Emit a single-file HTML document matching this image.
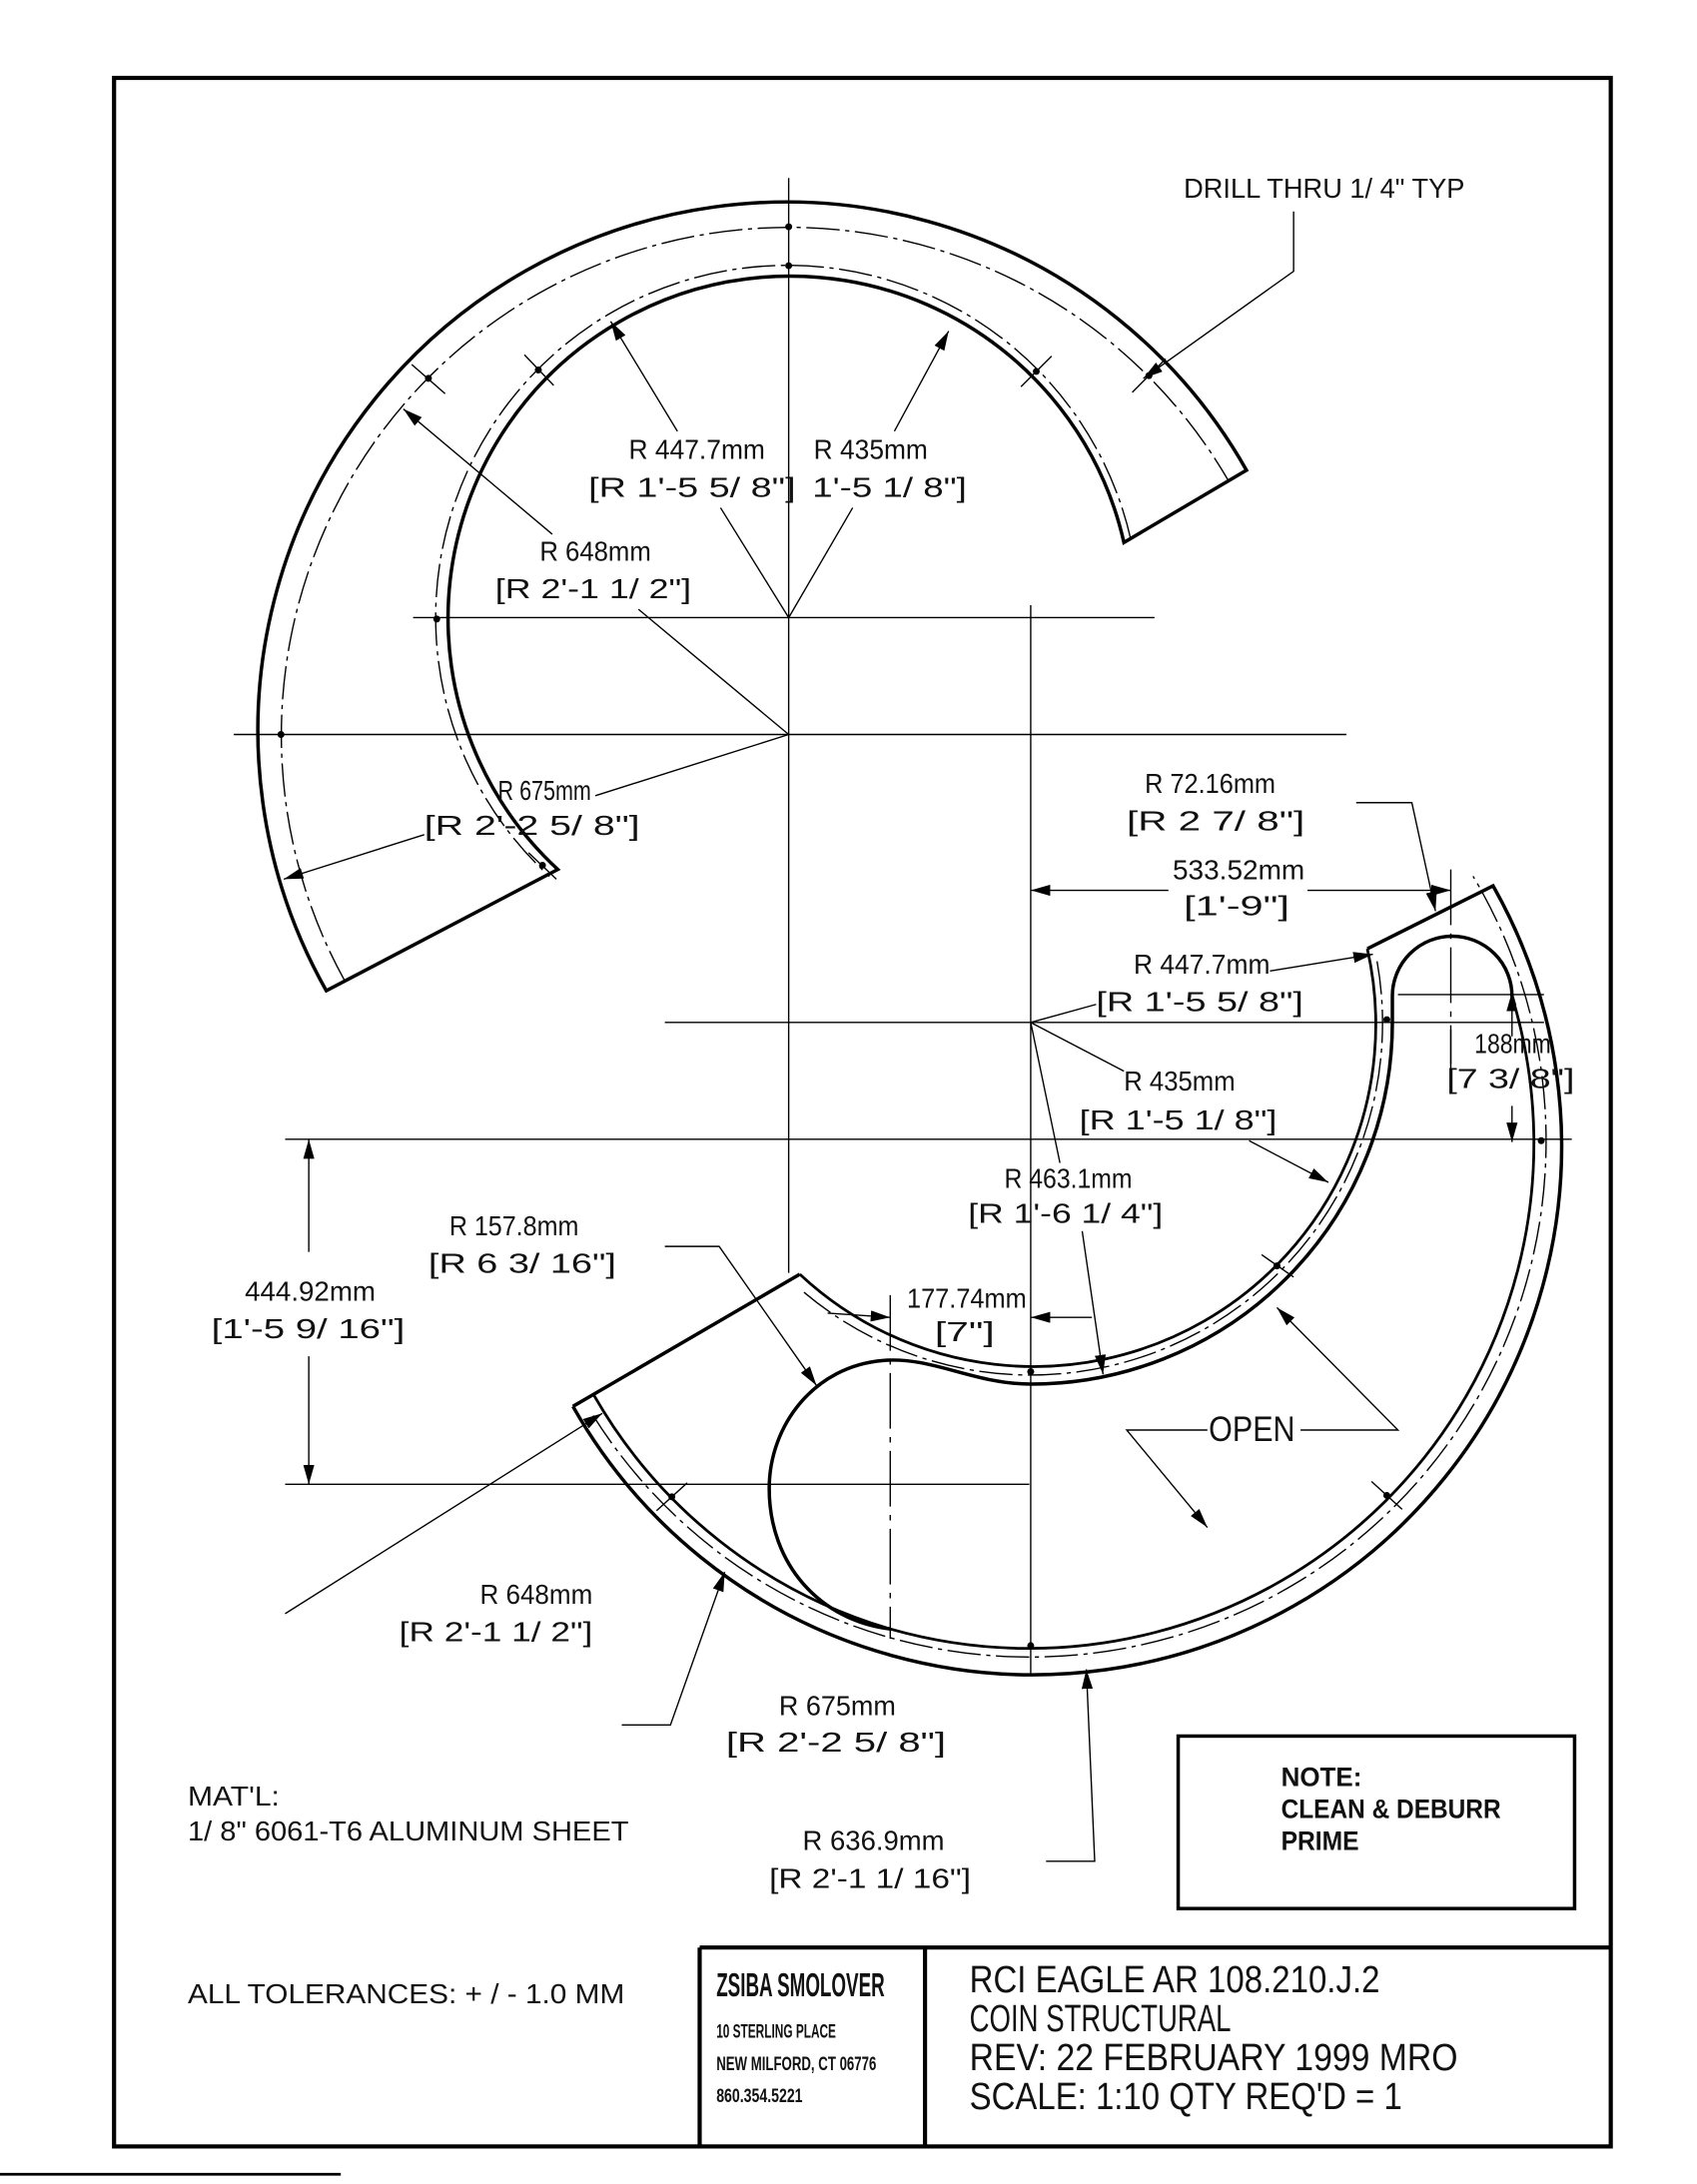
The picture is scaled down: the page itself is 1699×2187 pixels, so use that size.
<!DOCTYPE html>
<html><head><meta charset="utf-8">
<style>
html,body{margin:0;padding:0;background:#fff;}
svg{display:block;}
text{font-family:"Liberation Sans",sans-serif;fill:#111;}
</style></head>
<body>
<svg width="1699" height="2187" viewBox="0 0 1220 1570" preserveAspectRatio="none" xmlns="http://www.w3.org/2000/svg">
<defs>
<marker id="a" viewBox="0 0 14 8" refX="14" refY="4" markerWidth="14" markerHeight="8" markerUnits="userSpaceOnUse" orient="auto">
<path d="M0,0 L14,4 L0,8 Z" fill="#000"/>
</marker>
</defs>
<rect width="1220" height="1570" fill="#fff"/>
<!-- border -->
<rect x="82" y="56" width="1076" height="1487" fill="none" stroke="#000" stroke-width="3"/>
<line x1="503" y1="1400" x2="1158" y2="1400" stroke="#000" stroke-width="3"/>
<line x1="503" y1="1400" x2="503" y2="1543" stroke="#000" stroke-width="3"/>
<line x1="665" y1="1400" x2="665" y2="1543" stroke="#000" stroke-width="3"/>
<line x1="0" y1="1563" x2="245" y2="1563" stroke="#000" stroke-width="2"/>

<!-- construction lines -->
<g stroke="#000" stroke-width="1" fill="none">
<line x1="567" y1="128" x2="567" y2="915"/>
<line x1="297" y1="444" x2="830" y2="444"/>
<line x1="168" y1="528" x2="968" y2="528"/>
<line x1="741" y1="435" x2="741" y2="1205"/>
<line x1="478" y1="735" x2="1110" y2="735"/>
<line x1="205" y1="819" x2="1130" y2="819"/>
<line x1="205" y1="1067" x2="740" y2="1067"/>
<line x1="640" y1="931" x2="640" y2="1178" stroke-dasharray="40 6 4 6"/>
<line x1="1043" y1="625" x2="1043" y2="770" stroke-dasharray="40 6 4 6"/>
<line x1="1005" y1="715" x2="1110" y2="715"/>
</g>

<!-- top piece -->
<path d="M234.6,712.2 A380 380 0 0 1 896.1,338 L808,390 A246 246 0 1 0 401,625 Z" fill="none" stroke="#000" stroke-width="2.5"/>
<path d="M247.8,705 A365 365 0 0 1 883.1,345.5" fill="none" stroke="#000" stroke-width="1" stroke-dasharray="24 4 3 4"/>
<path d="M813,388 A253 253 0 1 0 395,630" fill="none" stroke="#000" stroke-width="1" stroke-dasharray="24 4 3 4"/>

<!-- bottom piece -->
<g fill="none" stroke="#000" stroke-width="2.5">
<path d="M411.9,1011 A380 380 0 0 0 1073.4,636.8 L983,682"/>
<path d="M411.9,1011 L575,916"/>
<path d="M575,916 A246 246 0 0 0 983,682" stroke-width="2"/>
<path d="M741,995 A260 260 0 0 0 1001,735 L1001,716 A43 43 0 0 1 1087,716 L1089,723"/>
<path d="M1089,723 A363 363 0 0 1 640,1171" stroke-width="2"/>
<path d="M427,1003 A363 363 0 0 0 640,1171" stroke-width="2"/>
<path d="M741,995 C700,995 670,975 635,978 C585,982 553,1025 553,1070 C553,1125 590,1165 640,1171"/>
</g>
<path d="M426.4,1017.6 A371 371 0 0 0 1059,629.9" fill="none" stroke="#000" stroke-width="1" stroke-dasharray="24 4 3 4"/>
<path d="M578,929 A253 253 0 0 0 990,691" fill="none" stroke="#000" stroke-width="1" stroke-dasharray="24 4 3 4"/>

<!-- hole dots -->
<g fill="#000">
<circle cx="308" cy="272" r="2.5"/><circle cx="387" cy="266" r="2.5"/>
<circle cx="745" cy="267" r="2.5"/><circle cx="826" cy="270" r="2.5"/>
<circle cx="567" cy="163" r="2.5"/><circle cx="567" cy="191" r="2.5"/>
<circle cx="314" cy="445" r="2.5"/><circle cx="202" cy="528" r="2.5"/>
<circle cx="390" cy="622" r="2.5"/>
<circle cx="483" cy="1076" r="2.5"/><circle cx="741" cy="1183" r="2.5"/>
<circle cx="997" cy="1075" r="2.5"/><circle cx="918" cy="910" r="2.5"/>
<circle cx="997" cy="733" r="2.5"/><circle cx="1108" cy="820" r="2.5"/>
<circle cx="741" cy="986" r="2.5"/>
</g>
<g stroke="#000" stroke-width="1">
<line x1="296" y1="262" x2="320" y2="283"/><line x1="377" y1="255" x2="398" y2="277"/>
<line x1="734" y1="278" x2="756" y2="256"/><line x1="814" y1="282" x2="838" y2="258"/>
<line x1="380" y1="613" x2="400" y2="632"/>
<line x1="472" y1="1086" x2="494" y2="1066"/><line x1="986" y1="1065" x2="1008" y2="1085"/>
<line x1="907" y1="902" x2="930" y2="918"/>
</g>

<!-- leaders -->
<g stroke="#000" stroke-width="1" fill="none">
<line x1="487" y1="310" x2="439" y2="231" marker-end="url(#a)"/>
<line x1="518" y1="365" x2="567" y2="444"/>
<line x1="643" y1="310" x2="682" y2="238" marker-end="url(#a)"/>
<line x1="613" y1="365" x2="567" y2="444"/>
<line x1="397" y1="384" x2="290" y2="294" marker-end="url(#a)"/>
<line x1="459" y1="438" x2="567" y2="528"/>
<line x1="428" y1="572" x2="567" y2="528"/>
<line x1="305" y1="600" x2="204" y2="632" marker-end="url(#a)"/>
<polyline points="930,152 930,195 822,272" marker-end="url(#a)"/>
<polyline points="975,577 1015,577 1032,655" marker-end="url(#a)"/>
<line x1="840" y1="640" x2="741" y2="640" marker-end="url(#a)"/>
<line x1="940" y1="640" x2="1043" y2="640" marker-end="url(#a)"/>
<line x1="913" y1="698" x2="987" y2="686" marker-end="url(#a)"/>
<line x1="788" y1="722" x2="741" y2="735"/>
<line x1="808" y1="770" x2="741" y2="735"/>
<line x1="898" y1="820" x2="955" y2="850" marker-end="url(#a)"/>
<line x1="762" y1="836" x2="741" y2="735"/>
<line x1="778" y1="885" x2="793" y2="988" marker-end="url(#a)"/>
<line x1="1087" y1="745" x2="1087" y2="713" marker-end="url(#a)"/>
<line x1="1087" y1="795" x2="1087" y2="821" marker-end="url(#a)"/>
<line x1="1043" y1="740" x2="1043" y2="765"/>
<line x1="595" y1="944" x2="640" y2="947" marker-end="url(#a)"/>
<line x1="785" y1="947" x2="741" y2="947" marker-end="url(#a)"/>
<polyline points="478,896 517,896 587,996" marker-end="url(#a)"/>
<polyline points="868,1028 810,1028 868,1098" marker-end="url(#a)"/>
<polyline points="935,1028 1005,1028 918,940" marker-end="url(#a)"/>
<line x1="222" y1="900" x2="222" y2="819" marker-end="url(#a)"/>
<line x1="222" y1="975" x2="222" y2="1067" marker-end="url(#a)"/>
<line x1="205" y1="1160" x2="433" y2="1016" marker-end="url(#a)"/>
<polyline points="447,1240 482,1240 521,1130" marker-end="url(#a)"/>
<polyline points="752,1338 787,1338 781,1200" marker-end="url(#a)"/>
</g>

<!-- labels -->
<g font-size="20">
<text x="851" y="142" textLength="202" lengthAdjust="spacingAndGlyphs">DRILL THRU 1/ 4" TYP</text>
<text x="452" y="330" textLength="98" lengthAdjust="spacingAndGlyphs">R 447.7mm</text>
<text x="423" y="357" textLength="149" lengthAdjust="spacingAndGlyphs">[R 1'-5 5/ 8"]</text>
<text x="585" y="330" textLength="82" lengthAdjust="spacingAndGlyphs">R 435mm</text>
<text x="584" y="357" textLength="111" lengthAdjust="spacingAndGlyphs">1'-5 1/ 8"]</text>
<text x="388" y="403" textLength="80" lengthAdjust="spacingAndGlyphs">R 648mm</text>
<text x="356" y="430" textLength="141" lengthAdjust="spacingAndGlyphs">[R 2'-1 1/ 2"]</text>
<text x="358" y="575" textLength="67" lengthAdjust="spacingAndGlyphs">R 675mm</text>
<text x="305" y="600" textLength="155" lengthAdjust="spacingAndGlyphs">[R 2'-2 5/ 8"]</text>
<text x="823" y="570" textLength="94" lengthAdjust="spacingAndGlyphs">R 72.16mm</text>
<text x="810" y="597" textLength="128" lengthAdjust="spacingAndGlyphs">[R 2 7/ 8"]</text>
<text x="843" y="632" textLength="95" lengthAdjust="spacingAndGlyphs">533.52mm</text>
<text x="851" y="658" textLength="76" lengthAdjust="spacingAndGlyphs">[1'-9"]</text>
<text x="815" y="700" textLength="98" lengthAdjust="spacingAndGlyphs">R 447.7mm</text>
<text x="788" y="727" textLength="149" lengthAdjust="spacingAndGlyphs">[R 1'-5 5/ 8"]</text>
<text x="808" y="784" textLength="80" lengthAdjust="spacingAndGlyphs">R 435mm</text>
<text x="776" y="812" textLength="142" lengthAdjust="spacingAndGlyphs">[R 1'-5 1/ 8"]</text>
<text x="1060" y="757" textLength="55" lengthAdjust="spacingAndGlyphs">188mm</text>
<text x="1040" y="782" textLength="92" lengthAdjust="spacingAndGlyphs">[7 3/ 8"]</text>
<text x="722" y="854" textLength="92" lengthAdjust="spacingAndGlyphs">R 463.1mm</text>
<text x="696" y="879" textLength="140" lengthAdjust="spacingAndGlyphs">[R 1'-6 1/ 4"]</text>
<text x="323" y="888" textLength="93" lengthAdjust="spacingAndGlyphs">R 157.8mm</text>
<text x="308" y="915" textLength="135" lengthAdjust="spacingAndGlyphs">[R 6 3/ 16"]</text>
<text x="176" y="935" textLength="94" lengthAdjust="spacingAndGlyphs">444.92mm</text>
<text x="152" y="962" textLength="139" lengthAdjust="spacingAndGlyphs">[1'-5 9/ 16"]</text>
<text x="652" y="940" textLength="86" lengthAdjust="spacingAndGlyphs">177.74mm</text>
<text x="672" y="964" textLength="43" lengthAdjust="spacingAndGlyphs">[7"]</text>
<text x="869" y="1036" font-size="25" textLength="62" lengthAdjust="spacingAndGlyphs">OPEN</text>
<text x="345" y="1153" textLength="81" lengthAdjust="spacingAndGlyphs">R 648mm</text>
<text x="287" y="1180" textLength="139" lengthAdjust="spacingAndGlyphs">[R 2'-1 1/ 2"]</text>
<text x="560" y="1233" textLength="84" lengthAdjust="spacingAndGlyphs">R 675mm</text>
<text x="522" y="1259" textLength="158" lengthAdjust="spacingAndGlyphs">[R 2'-2 5/ 8"]</text>
<text x="577" y="1330" textLength="102" lengthAdjust="spacingAndGlyphs">R 636.9mm</text>
<text x="553" y="1357" textLength="145" lengthAdjust="spacingAndGlyphs">[R 2'-1 1/ 16"]</text>
<text x="135" y="1298" textLength="66" lengthAdjust="spacingAndGlyphs">MAT'L:</text>
<text x="135" y="1323" textLength="317" lengthAdjust="spacingAndGlyphs">1/ 8" 6061-T6 ALUMINUM SHEET</text>
<text x="135" y="1440" textLength="314" lengthAdjust="spacingAndGlyphs">ALL TOLERANCES: + / - 1.0 MM</text>
</g>

<!-- note box -->
<rect x="847" y="1248" width="285" height="124" fill="none" stroke="#000" stroke-width="2.5"/>
<g font-size="19" font-weight="bold">
<text x="921" y="1284" textLength="58" lengthAdjust="spacingAndGlyphs">NOTE:</text>
<text x="921" y="1307" textLength="158" lengthAdjust="spacingAndGlyphs">CLEAN &amp; DEBURR</text>
<text x="921" y="1330" textLength="56" lengthAdjust="spacingAndGlyphs">PRIME</text>
</g>

<!-- title block -->
<text x="515" y="1435" font-size="24" font-weight="bold" textLength="121" lengthAdjust="spacingAndGlyphs">ZSIBA SMOLOVER</text>
<g font-size="14" font-weight="bold">
<text x="515" y="1465" textLength="86" lengthAdjust="spacingAndGlyphs">10 STERLING PLACE</text>
<text x="515" y="1488" textLength="115" lengthAdjust="spacingAndGlyphs">NEW MILFORD, CT 06776</text>
<text x="515" y="1511" textLength="62" lengthAdjust="spacingAndGlyphs">860.354.5221</text>
</g>
<g font-size="27">
<text x="697" y="1432" textLength="295" lengthAdjust="spacingAndGlyphs">RCI EAGLE AR 108.210.J.2</text>
<text x="697" y="1460" textLength="188" lengthAdjust="spacingAndGlyphs">COIN STRUCTURAL</text>
<text x="697" y="1488" textLength="351" lengthAdjust="spacingAndGlyphs">REV: 22 FEBRUARY 1999 MRO</text>
<text x="697" y="1516" textLength="311" lengthAdjust="spacingAndGlyphs">SCALE: 1:10 QTY REQ'D = 1</text>
</g>
</svg>
</body></html>
